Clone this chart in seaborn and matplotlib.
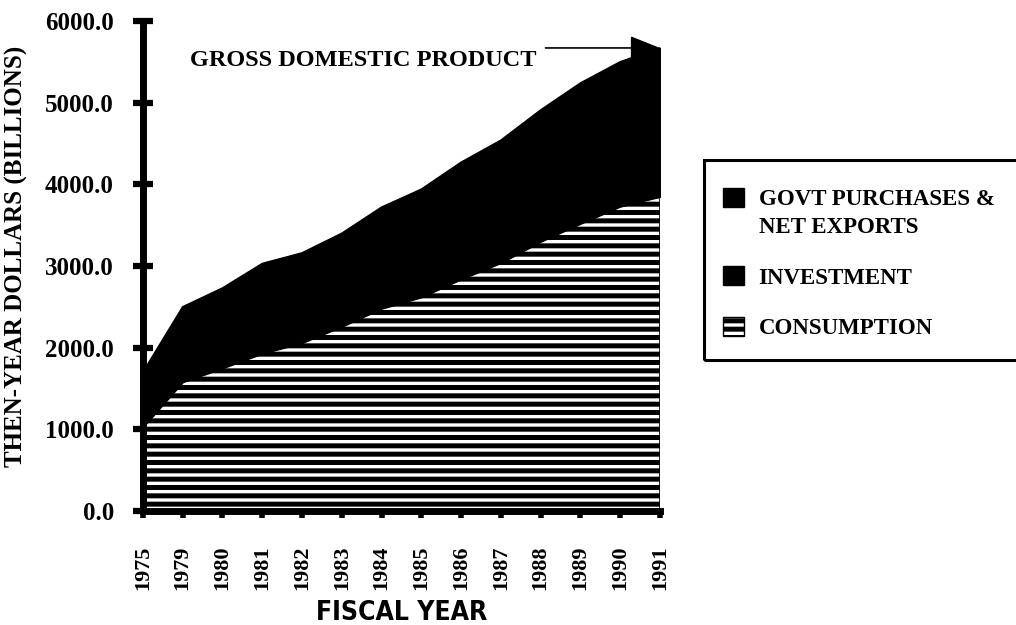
#!/usr/bin/env python3
import numpy as np
import pandas as pd
import matplotlib
matplotlib.use('Agg')
import matplotlib.pyplot as plt
from matplotlib.patches import Patch, Rectangle
from matplotlib.legend_handler import HandlerPatch
import seaborn as sns

years = ['1975', '1979', '1980', '1981', '1982', '1983', '1984',
         '1985', '1986', '1987', '1988', '1989', '1990', '1991']
# billions of then-year dollars
consumption = [1030, 1580, 1750, 1930, 2060, 2260, 2480,
               2620, 2840, 3040, 3300, 3520, 3730, 3850]
investment = [230, 480, 480, 560, 500, 550, 720,
              710, 720, 750, 790, 830, 800, 740]
gdp = [1700, 2500, 2730, 3030, 3160, 3400, 3720,
       3940, 4270, 4540, 4910, 5240, 5500, 5670]
govt_net = [g - c - i for g, c, i in zip(gdp, consumption, investment)]

df = pd.DataFrame({'Year': years, 'Consumption': consumption,
                   'Investment': investment, 'Govt': govt_net, 'GDP': gdp})
df['pos'] = np.arange(len(df))

sns.set_theme(style='ticks')
plt.rcParams['font.family'] = ['Liberation Serif', 'DejaVu Serif']
plt.rcParams['font.weight'] = 'bold'
plt.rcParams['text.color'] = 'black'
plt.rcParams['axes.labelcolor'] = 'black'
plt.rcParams['xtick.color'] = 'black'
plt.rcParams['ytick.color'] = 'black'
plt.rcParams['hatch.linewidth'] = 3.6
plt.rcParams['hatch.color'] = 'black'

fig = plt.figure(figsize=(10.16, 6.25), dpi=100)
ax = fig.add_axes([0.1407, 0.1824, 0.5089, 0.784])

polys = ax.stackplot(df['pos'], df['Consumption'], df['Investment'], df['Govt'],
                     colors=['white', 'black', 'black'], edgecolor='black', linewidth=1.2)
polys[0].set_hatch('--')
polys[0].set_edgecolor('black')
sns.lineplot(data=df, x='pos', y='GDP', color='black', lw=1.2, ax=ax)

ax.set_xlim(0, 13)
ax.set_ylim(0, 6000)
ax.set_xticks(df['pos'])
ax.set_xticklabels(df['Year'], rotation=90, fontsize=16, fontweight='bold')
ax.set_yticks(np.arange(0, 6001, 1000))
ax.set_yticklabels([f'{v:.1f}' for v in np.arange(0, 6001, 1000)],
                   fontsize=18, fontweight='bold')
ax.tick_params(axis='y', left=True, direction='inout', length=14, width=4.5, pad=14)
ax.tick_params(axis='x', bottom=True, direction='out', length=5, width=4, pad=20)

sns.despine(ax=ax)
for s in ['left', 'bottom']:
    ax.spines[s].set_linewidth(5)
    ax.spines[s].set_color('black')

ax.set_ylabel('THEN-YEAR DOLLARS (BILLIONS)', fontsize=18, fontweight='bold', va='center')
ax.yaxis.set_label_coords(-0.244, 0.52)
ax.set_xlabel('FISCAL YEAR', fontsize=19, fontweight='bold', va='center',
              family=['DejaVu Sans'], fontstretch='condensed')
ax.xaxis.set_label_coords(0.5, -0.208)

# GDP callout
ax.text(1.18, 5450, 'GROSS DOMESTIC PRODUCT', fontsize=17.5, fontweight='bold',
        ha='left', va='baseline')
ax.annotate('', xy=(13, 5670), xytext=(10.12, 5670),
            arrowprops=dict(arrowstyle='-|>,head_length=1.25,head_width=0.5',
                            mutation_scale=15, color='black', lw=1.2,
                            shrinkA=0, shrinkB=0))


def top_aligned_square(legend, orig_handle, xdescent, ydescent, width, height, fontsize):
    # first entry has two text lines; the key sits next to the upper one
    return Rectangle((-xdescent, -ydescent + 0.7 * fontsize), width, height)


handles = [Patch(facecolor='black', edgecolor='black'),
           Patch(facecolor='black', edgecolor='black'),
           Patch(facecolor='white', edgecolor='black', hatch='--')]
labels = ['GOVT PURCHASES &\nNET EXPORTS', 'INVESTMENT', 'CONSUMPTION']
leg = fig.legend(handles, labels, loc='upper left', bbox_to_anchor=(723 / 1016, 1 - 189 / 625),
                 borderaxespad=0, frameon=False, borderpad=0,
                 handlelength=0.9, handleheight=0.9, handletextpad=0.65,
                 labelspacing=1.23,
                 handler_map={handles[0]: HandlerPatch(patch_func=top_aligned_square)},
                 prop={'family': ['Liberation Serif'], 'weight': 'bold', 'size': 16.5})
for t in leg.get_texts():
    t.set_linespacing(1.45)

# legend box runs off the right edge of the page
fig.patches.append(Rectangle((704 / 1016, 1 - 360 / 625), 330 / 1016, 200 / 625,
                             transform=fig.transFigure, fill=False,
                             edgecolor='black', linewidth=2.2))

fig.savefig('out.png', dpi=100)
